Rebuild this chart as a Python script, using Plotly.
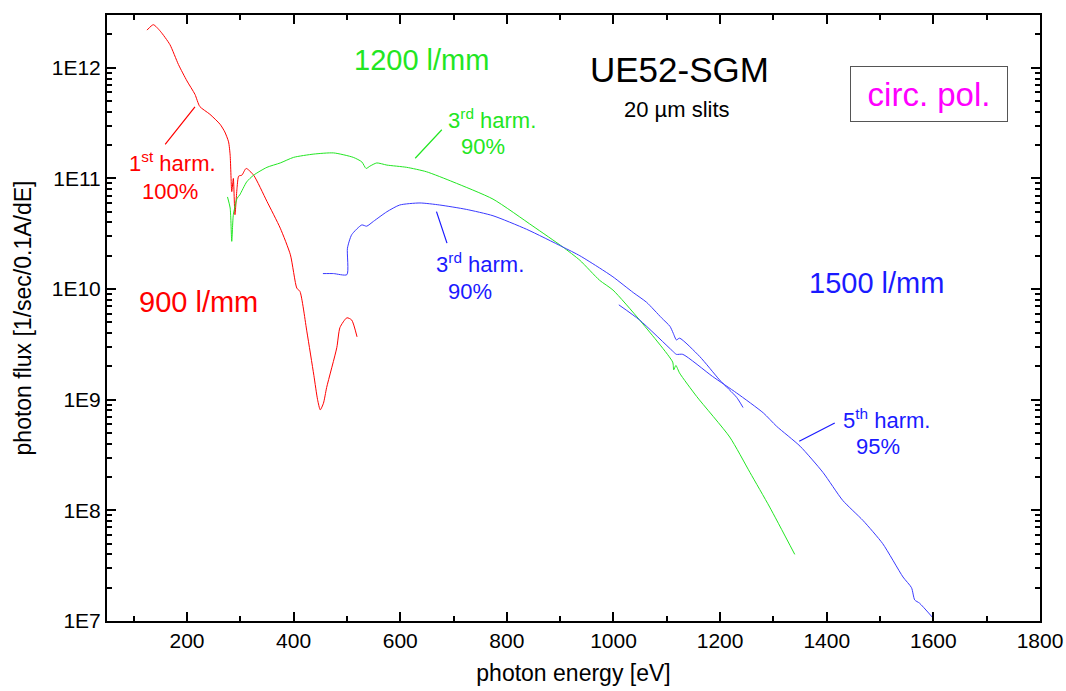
import plotly.graph_objects as go

# ---- data (photon energy [eV], photon flux [1/sec/0.1A/dE]) ----
red_E = [125, 137, 150, 168, 184, 200, 215, 224, 243, 262, 271, 278, 281, 284, 287, 290, 294, 297,
         303, 311, 325, 350, 375, 394, 406, 412, 425, 438, 445, 450, 456, 462, 481, 487, 500, 509, 519]
red_F = [2.19e12, 2.45e12, 2.14e12, 1.62e12, 1.07e12, 7.6e11, 5.75e11, 4.47e11, 3.8e11, 3.09e11,
         2.63e11, 2.14e11, 1.62e11, 7.6e10, 1.0e11, 4.7e10, 8.3e10, 1.05e11, 1.07e11, 1.23e11,
         1.07e11, 6.2e10, 3.55e10, 2.04e10, 1.02e10, 9.5e9, 4.1e9, 1.66e9, 1.0e9, 8.1e8, 9.3e8,
         1.29e9, 2.95e9, 4.5e9, 5.5e9, 5.25e9, 3.7e9]

green_E = [276, 281, 284, 287, 294, 299, 312, 325, 350, 375, 400, 438, 475, 512, 528, 536, 543, 556,
           575, 612, 649, 699, 774, 849, 905, 937, 974, 999, 1049, 1111, 1113, 1117, 1124, 1156,
           1218, 1256, 1293, 1340]
green_F = [6.8e10, 5.4e10, 2.7e10, 4.7e10, 6.6e10, 7.1e10, 9.3e10, 1.07e11, 1.26e11, 1.38e11,
           1.55e11, 1.66e11, 1.70e11, 1.55e11, 1.41e11, 1.23e11, 1.29e11, 1.38e11, 1.32e11,
           1.26e11, 1.15e11, 9.3e10, 6.5e10, 3.7e10, 2.4e10, 1.82e10, 1.2e10, 9.8e9, 5.25e9,
           2.19e9, 1.86e9, 2.04e9, 1.74e9, 1.07e9, 4.6e8, 2.2e8, 1.07e8, 4.0e7]

blue3_E = [455, 475, 500, 501, 509, 528, 537, 550, 575, 599, 637, 674, 724, 774, 837, 905, 937,
           974, 999, 1037, 1062, 1090, 1106, 1112, 1118, 1124, 1162, 1199, 1231, 1243]
blue3_F = [1.38e10, 1.38e10, 1.35e10, 2.34e10, 3.1e10, 3.8e10, 3.7e10, 4.1e10, 5.0e10, 5.75e10,
           6.0e10, 5.75e10, 5.25e10, 4.6e10, 3.47e10, 2.4e10, 2.0e10, 1.55e10, 1.29e10, 9.3e9,
           7.6e9, 5.5e9, 4.6e9, 4.0e9, 3.47e9, 3.6e9, 2.45e9, 1.51e9, 1.05e9, 8.5e8]

blue5_E = [1010, 1049, 1111, 1118, 1130, 1186, 1231, 1281, 1306, 1350, 1393, 1430, 1468, 1505,
           1543, 1559, 1565, 1574, 1599]
blue5_F = [7.2e9, 5.25e9, 2.75e9, 2.57e9, 2.57e9, 1.62e9, 1.15e9, 7.6e8, 5.75e8, 3.8e8, 2.2e8,
           1.23e8, 8.1e7, 5.0e7, 2.5e7, 2.0e7, 1.55e7, 1.45e7, 1.07e7]

y_tickvals = [1e7, 1e8, 1e9, 1e10, 1e11, 1e12]
y_ticktext = ["1E7", "1E8", "1E9", "1E10", "1E11", "1E12"]
x_tickvals = [200, 400, 600, 800, 1000, 1200, 1400, 1600, 1800]

RED = "#ff0000"
GREEN = "#22e622"
BLUE = "#1a1aff"
LBLUE = "#3a3aff"
FONT = "Liberation Sans, Arial, sans-serif"

fig = go.Figure()
for xs, ys, col in [(red_E, red_F, RED), (green_E, green_F, GREEN),
                    (blue3_E, blue3_F, LBLUE), (blue5_E, blue5_F, LBLUE)]:
    fig.add_trace(go.Scatter(x=xs, y=ys, mode="lines",
                             line=dict(color=col, width=1, shape="spline", smoothing=0.6)))

minor_y = [k * 10 ** n for n in range(7, 13) for k in range(2, 10)]

def txt(x, ly, text, color, size, **kw):
    fig.add_annotation(x=x, y=ly, xref="x", yref="y", text=text, showarrow=False,
                       font=dict(family=FONT, size=size, color=color),
                       xanchor="center", yanchor="middle", **kw)

def leader(x, ly, ax, ay, color):
    fig.add_annotation(x=x, y=ly, xref="x", yref="y", text="", showarrow=True,
                       arrowhead=0, arrowwidth=1.2, arrowcolor=color, ax=ax, ay=ay,
                       standoff=0, startstandoff=0)

# labels (y given as log10 value)
txt(172, 11.15, "1<sup>st</sup> harm.", RED, 22)
txt(168, 10.88, "100%", RED, 22)
leader(215, 11.647, -31, 39, RED)
txt(221, 9.884, "900 l/mm", RED, 29)

txt(639, 12.07, "1200 l/mm", GREEN, 29)
txt(772, 11.54, "3<sup>rd</sup> harm.", GREEN, 22)
txt(755, 11.286, "90%", GREEN, 22)
leader(678, 11.44, -28, 30, GREEN)

txt(1124, 11.98, "UE52-SGM", "black", 35)
txt(1119, 11.62, "20 µm slits", "black", 22)
txt(1591, 11.765, "circ. pol.", "#ff00ff", 33, bordercolor="#555555", borderwidth=1,
    borderpad=0, width=156, height=54, bgcolor="white")

txt(750, 10.237, "3<sup>rd</sup> harm.", BLUE, 22)
txt(731, 9.975, "90%", BLUE, 22)
leader(668, 10.70, 11, 33, BLUE)

txt(1494, 10.056, "1500 l/mm", BLUE, 29)
txt(1513, 8.826, "5<sup>th</sup> harm.", BLUE, 22)
txt(1496, 8.573, "95%", BLUE, 22)
leader(1415, 8.79, -37, 19, BLUE)

fig.update_layout(
    width=1066, height=691,
    margin=dict(l=107, r=26, t=15, b=70),
    paper_bgcolor="white", plot_bgcolor="white",
    showlegend=False,
    font=dict(family=FONT, color="black"),
    xaxis=dict(
        range=[50, 1800], tickmode="array", tickvals=x_tickvals, automargin=False,
        ticks="inside", ticklen=9, tickwidth=1.5, tickcolor="black",
        minor=dict(ticks="inside", ticklen=5, tickwidth=1.5, tickcolor="black", dtick=100, tick0=0,
                   showgrid=False),
        showline=True, linecolor="black", linewidth=2, mirror="ticks",
        showgrid=False, zeroline=False,
        tickfont=dict(family=FONT, size=21, color="black"),
        title=dict(text="photon energy [eV]", font=dict(family=FONT, size=23, color="black"),
                   standoff=14),
    ),
    yaxis=dict(
        type="log", range=[7, 12.477], tickmode="array", tickvals=y_tickvals, ticktext=y_ticktext,
        automargin=False,
        ticks="inside", ticklen=9, tickwidth=1.5, tickcolor="black",
        minor=dict(ticks="inside", ticklen=5, tickwidth=1.5, tickcolor="black",
                   tickmode="array", tickvals=minor_y, showgrid=False),
        showline=True, linecolor="black", linewidth=2, mirror="ticks",
        showgrid=False, zeroline=False,
        tickfont=dict(family=FONT, size=21, color="black"),
        title=dict(text="photon flux [1/sec/0.1A/dE]", font=dict(family=FONT, size=23, color="black"),
                   standoff=14),
    ),
)

fig.write_html("out.html")
